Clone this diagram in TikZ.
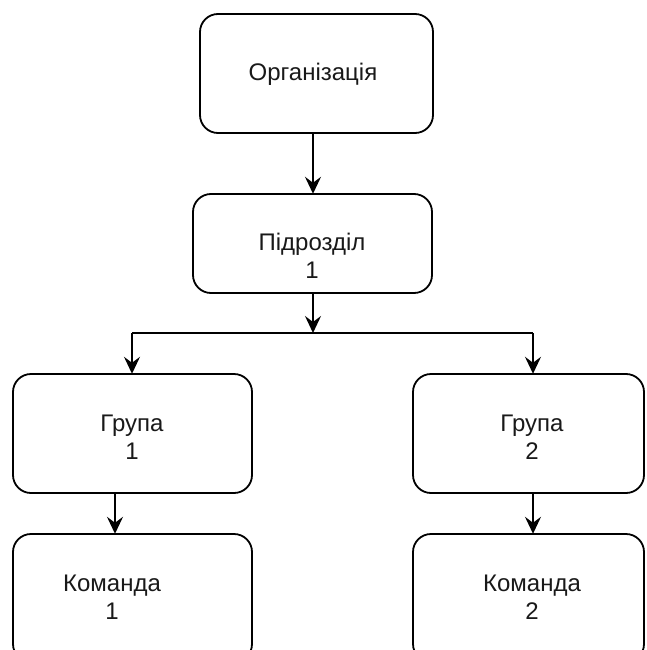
\documentclass[tikz,border=0pt]{standalone}
\usepackage{fontspec}
\setmainfont{Liberation Sans}
\usetikzlibrary{arrows.meta}

\tikzset{
  unit/.style={draw=black, line width=1.8pt, rounded corners=18pt, fill=white},
  caption/.style={font=\fontsize{24pt}{28.5pt}\selectfont, align=center, inner sep=0pt, text=black!90},
  link/.style={draw=black, line width=1.8pt,
    -{Stealth[length=17pt, width=16pt, inset=6pt]}},
  wire/.style={draw=black, line width=1.8pt}
}

\begin{document}
\begin{tikzpicture}[x=1pt, y=-1pt]
  \useasboundingbox (0,0) rectangle (646,650);
  \clip (0,0) rectangle (646,650);
  \fill[white] (0,0) rectangle (646,650);

  % boxes
  \draw[unit] (200,14) rectangle (433,133);
  \node[minimum width=233pt, minimum height=119pt] (org) at (316.5,73.5) {};
  \draw[unit] (193,194) rectangle (432,293);
  \node[minimum width=239pt, minimum height=99pt] (sub) at (312.5,243.5) {};
  \draw[unit] (13,374) rectangle (252,493);
  \node[minimum width=239pt, minimum height=119pt] (g1) at (132.5,433.5) {};
  \draw[unit] (413,374) rectangle (644,493);
  \node[minimum width=231pt, minimum height=119pt] (g2) at (528.5,433.5) {};
  \draw[unit] (13,534) rectangle (252,662);
  \node[minimum width=239pt, minimum height=128pt] (k1) at (132.5,598) {};
  \draw[unit] (413,534) rectangle (644,662);
  \node[minimum width=231pt, minimum height=128pt] (k2) at (528.5,598) {};

  % labels
  \node[caption] (torg) at (313,74) {Організація};
  \node[caption] (tsub) at (312,256) {Підрозділ\\1};
  \node[caption] (tg1) at (132,437) {Група\\1};
  \node[caption] (tg2) at (532,437) {Група\\2};
  \node[caption] (tk1) at (112,597) {Команда\\1};
  \node[caption] (tk2) at (532,597) {Команда\\2};

  % connectors
  \coordinate (fork) at (313,333);
  \coordinate (forkL) at (132,333);
  \coordinate (forkR) at (533,333);
  \draw[link] (org.south -| fork) -- (sub.north -| fork);
  \draw[link] (sub.south -| fork) -- (fork);
  \draw[wire] (forkL) -- (forkR);
  \draw[link] (forkL) -- (forkL |- g1.north);
  \draw[link] (forkR) -- (forkR |- g2.north);
  \coordinate (d1) at (115,0);
  \coordinate (d2) at (533,0);
  \draw[link] (g1.south -| d1) -- (k1.north -| d1);
  \draw[link] (g2.south -| d2) -- (k2.north -| d2);
\end{tikzpicture}
\end{document}
